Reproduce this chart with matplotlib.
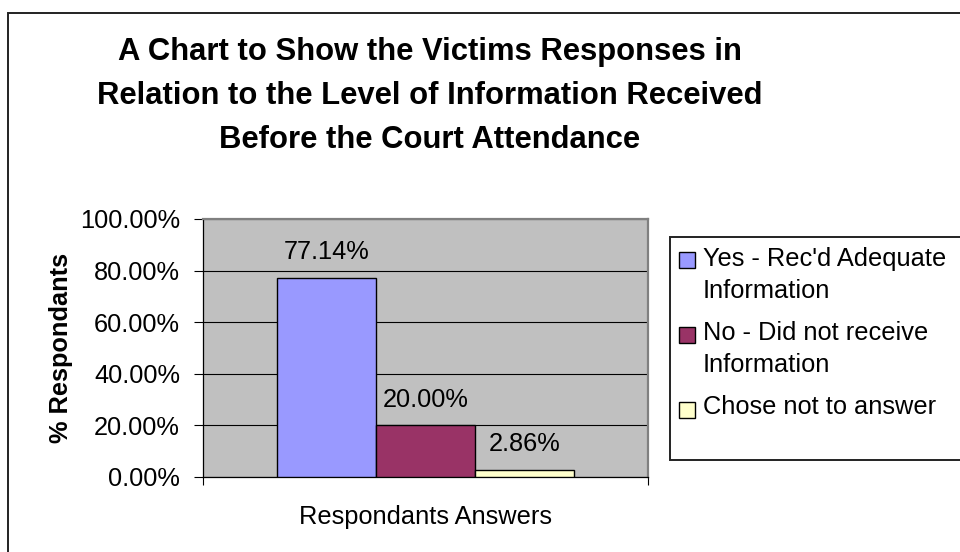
import numpy as np
import matplotlib
matplotlib.use("Agg")
import matplotlib.pyplot as plt
from matplotlib.patches import Rectangle

plt.rcParams["font.family"] = ["Liberation Sans", "DejaVu Sans"]

TITLE = ("A Chart to Show the Victims Responses in\n"
         "Relation to the Level of Information Received\n"
         "Before the Court Attendance")
categories = ["Respondants Answers"]
series_names = ["Yes - Rec'd Adequate\nInformation",
                "No - Did not receive\nInformation",
                "Chose not to answer"]
values = [77.14, 20.00, 2.86]
colors = ["#9999FF", "#993366", "#FFFFCC"]
yticks = [0, 20, 40, 60, 80, 100]

W, H = 960, 552
FS = 18.3

fig = plt.figure(figsize=(W / 100, H / 100), dpi=100)


def fx(px):
    return px / W


def fy(py):
    return 1 - py / H


# outer chart border (right/bottom run off the canvas)
fig.add_artist(Rectangle((fx(8), -0.2), 1.5, fy(13) + 0.2, transform=fig.transFigure,
                         fill=False, edgecolor="#222222", lw=1.4))

ax = fig.add_axes([fx(203), fy(477), fx(648) - fx(203), fy(219) - fy(477)])
ax.set_facecolor("#C0C0C0")

n = len(values)
width = 1 / (n + 1.5)
offsets = (np.arange(n) - (n - 1) / 2) * width
for off, v, c in zip(offsets, values, colors):
    ax.bar(off, v, width=width, color=c, edgecolor="black", linewidth=1.0, zorder=3)
    ax.annotate(f"{v:.2f}%", (off, v), xytext=(0, 10), textcoords="offset points",
                ha="center", va="bottom", fontsize=FS, zorder=4)

ax.set_xlim(-0.5, 0.5)
ax.set_ylim(0, 100)
ax.set_yticks(yticks)
ax.set_yticklabels([f"{t:.2f}%" for t in yticks], fontsize=FS)
ax.yaxis.grid(True, color="black", lw=0.8, zorder=1)
ax.set_axisbelow(True)
ax.tick_params(axis="y", direction="out", length=6.5, width=0.8, pad=10)

ax.set_xticks([-0.5, 0.5])
ax.set_xticklabels([])
ax.set_xticks([0], minor=True)
ax.set_xticklabels(categories, minor=True, fontsize=FS)
ax.tick_params(axis="x", which="major", direction="out", length=6, width=0.8)
ax.tick_params(axis="x", which="minor", length=0, pad=20)

for s in ("left", "bottom"):
    ax.spines[s].set_color("black")
    ax.spines[s].set_linewidth(0.9)
for s in ("top", "right"):
    ax.spines[s].set_color("#808080")
    ax.spines[s].set_linewidth(1.6)

ax.set_ylabel("% Respondants", fontsize=FS, fontweight="bold", labelpad=5)

fig.text(fx(430), fy(96), TITLE, ha="center", va="center", fontsize=22.3,
         fontweight="bold", linespacing=1.6)

# legend box and entries
fig.add_artist(Rectangle((fx(670), fy(460)), 1, fy(237) - fy(460), transform=fig.transFigure,
                         facecolor="white", edgecolor="#222222", lw=1.4))
text_top = [247, 321, 395]
box_top = [252, 327, 402]
for name, c, ty, by in zip(series_names, colors, text_top, box_top):
    fig.add_artist(Rectangle((fx(679), fy(by + 16)), fx(16), fy(0) - fy(16),
                             transform=fig.transFigure, facecolor=c,
                             edgecolor="black", lw=1.0))
    fig.text(fx(703), fy(ty), name, ha="left", va="top", fontsize=FS, linespacing=1.4)

fig.savefig("out.png", dpi=100)
